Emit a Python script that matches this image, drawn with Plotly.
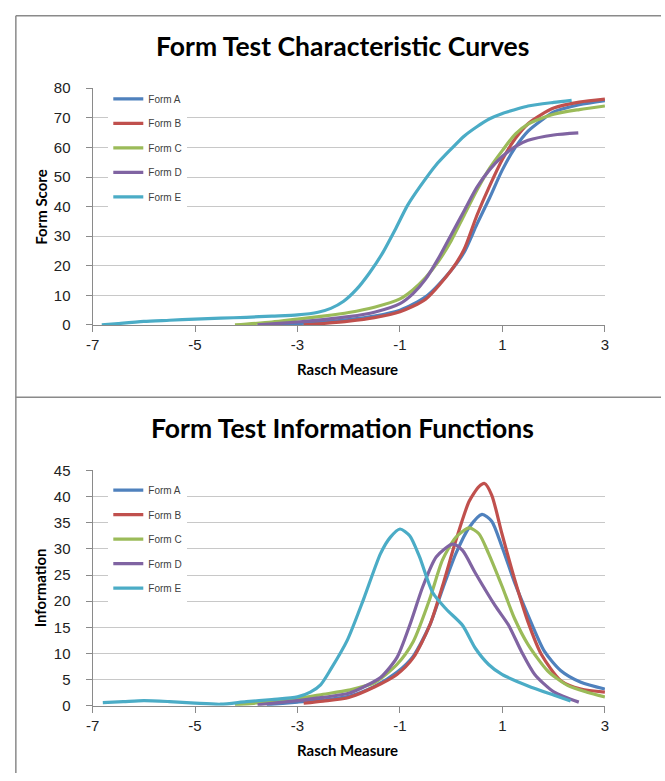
import plotly.graph_objects as go

W, H = 665, 781

forms = ["Form A", "Form B", "Form C", "Form D", "Form E"]
colors = ["#4F81BD", "#C0504D", "#9BBB59", "#8064A2", "#4BACC6"]

# ---- Test characteristic curves (Rasch measure -> form score) ----
tcc_x_A = [-3.5, -3.0, -2.5, -2.0, -1.5, -1.0, -0.5, 0.0, 0.25, 0.5, 0.75, 1.0, 1.25, 1.5, 1.75, 2.0, 2.5, 3.0]
tcc_y_A = [0.0, 0.5, 1.0, 1.8, 3.0, 5.0, 9.5, 18.5, 24.5, 34.0, 43.0, 52.5, 60.0, 65.5, 69.0, 72.0, 74.4, 75.8]

tcc_x_B = [-2.88, -2.5, -2.0, -1.5, -1.0, -0.5, 0.0, 0.25, 0.5, 0.75, 1.0, 1.25, 1.5, 1.75, 2.0, 2.5, 3.0]
tcc_y_B = [0.0, 0.5, 1.3, 2.5, 4.5, 8.7, 18.5, 25.5, 37.0, 47.0, 56.0, 63.0, 68.0, 71.0, 73.3, 75.3, 76.3]

tcc_x_C = [-4.22, -3.5, -3.0, -2.5, -2.0, -1.5, -1.0, -0.75, -0.5, -0.25, 0.0, 0.25, 0.5, 0.75, 1.0, 1.25, 1.5, 2.0, 2.5, 3.0]
tcc_y_C = [0.0, 1.0, 2.0, 3.0, 4.2, 6.0, 8.8, 11.8, 16.0, 21.5, 28.5, 37.0, 45.5, 53.0, 59.0, 64.5, 67.9, 71.2, 72.8, 74.0]

tcc_x_D = [-3.78, -3.0, -2.5, -2.0, -1.5, -1.0, -0.75, -0.5, -0.25, 0.0, 0.25, 0.5, 0.75, 1.0, 1.25, 1.5, 2.0, 2.48]
tcc_y_D = [0.0, 1.0, 1.8, 2.8, 4.3, 7.2, 10.5, 15.5, 22.5, 30.5, 38.5, 46.5, 52.5, 57.0, 60.3, 62.4, 64.2, 64.9]

tcc_x_E = [-6.82, -6.5, -6.0, -5.5, -5.0, -4.5, -4.0, -3.5, -3.0, -2.6, -2.35, -2.1, -1.85, -1.6, -1.35, -1.1, -0.85, -0.6, -0.3, 0.0, 0.25, 0.5, 0.75, 1.0, 1.25, 1.5, 2.0, 2.35]
tcc_y_E = [0.0, 0.5, 1.2, 1.6, 2.0, 2.3, 2.6, 3.0, 3.4, 4.3, 5.6, 8.0, 12.0, 17.5, 24.0, 32.0, 40.5, 47.0, 54.0, 59.5, 63.8, 67.0, 69.7, 71.5, 72.8, 74.0, 75.2, 75.9]

# ---- Test information functions ----
tif_x_A = [-3.6, -3.0, -2.5, -2.0, -1.5, -1.06, -0.74, -0.42, -0.17, 0.09, 0.35, 0.6, 0.79, 0.99, 1.24, 1.5, 1.82, 2.14, 2.53, 3.0]
tif_y_A = [0.2, 0.7, 1.1, 1.8, 3.7, 6.4, 9.5, 15.4, 22.3, 29.1, 34.1, 36.6, 35.3, 30.4, 23.5, 17.3, 10.4, 6.7, 4.5, 3.2]

tif_x_B = [-2.88, -2.5, -2.0, -1.5, -1.06, -0.74, -0.42, -0.17, 0.09, 0.35, 0.54, 0.65, 0.79, 0.99, 1.24, 1.5, 1.76, 2.14, 2.53, 3.0]
tif_y_B = [0.5, 0.9, 1.6, 3.6, 6.0, 9.2, 15.4, 22.9, 31.6, 39.1, 41.9, 42.5, 40.3, 32.9, 24.1, 16.0, 9.8, 4.8, 3.2, 2.6]

tif_x_C = [-4.22, -3.5, -3.0, -2.5, -2.0, -1.5, -1.06, -0.74, -0.42, -0.17, 0.09, 0.35, 0.54, 0.73, 0.99, 1.24, 1.5, 1.88, 2.27, 2.65, 3.0]
tif_y_C = [0.2, 0.8, 1.4, 2.2, 3.0, 4.4, 7.9, 12.3, 20.4, 27.9, 32.2, 34.0, 32.9, 29.1, 22.9, 16.6, 11.7, 6.7, 3.9, 2.6, 1.7]

tif_x_D = [-3.78, -3.0, -2.5, -2.0, -1.71, -1.38, -1.06, -0.81, -0.55, -0.29, 0.03, 0.22, 0.47, 0.86, 1.12, 1.37, 1.63, 2.01, 2.49]
tif_y_D = [0.2, 1.0, 1.6, 2.4, 3.6, 5.4, 9.2, 15.4, 22.9, 28.5, 30.9, 29.7, 25.4, 19.1, 15.4, 10.4, 6.0, 2.6, 0.7]

tif_x_E = [-6.8, -6.4, -6.0, -5.5, -5.0, -4.5, -4.0, -3.5, -3.0, -2.75, -2.55, -2.35, -2.03, -1.71, -1.38, -1.19, -1.0, -0.81, -0.62, -0.36, -0.1, 0.22, 0.47, 0.73, 0.99, 1.5, 2.01, 2.33]
tif_y_E = [0.6, 0.8, 1.0, 0.8, 0.5, 0.3, 0.8, 1.2, 1.7, 2.6, 4.0, 7.0, 12.5, 20.4, 29.1, 32.2, 33.8, 32.5, 28.5, 21.6, 18.5, 15.4, 11.0, 7.9, 6.0, 3.8, 2.0, 0.9]

x_ticks = [-7, -5, -3, -1, 1, 3]
x_tick_labels = ["-7", "-5", "-3", "-1", "1", "3"]

titles = ["Form Test Characteristic Curves", "Form Test Information Functions"]
y_titles = ["Form Score", "Information"]
x_title = "Rasch Measure"

tcc = [(tcc_x_A, tcc_y_A), (tcc_x_B, tcc_y_B), (tcc_x_C, tcc_y_C), (tcc_x_D, tcc_y_D), (tcc_x_E, tcc_y_E)]
tif = [(tif_x_A, tif_y_A), (tif_x_B, tif_y_B), (tif_x_C, tif_y_C), (tif_x_D, tif_y_D), (tif_x_E, tif_y_E)]

def px(x):
    return x / W

def py(y):
    return 1 - y / H

fig = go.Figure()
for i, (name, col) in enumerate(zip(forms, colors)):
    fig.add_trace(go.Scatter(x=tcc[i][0], y=tcc[i][1], name=name, mode="lines",
                             line=dict(color=col, width=3.2, shape="spline", smoothing=0.7),
                             xaxis="x", yaxis="y", legend="legend", legendgroup="t" + name))
for i, (name, col) in enumerate(zip(forms, colors)):
    fig.add_trace(go.Scatter(x=tif[i][0], y=tif[i][1], name=name, mode="lines",
                             line=dict(color=col, width=3.2, shape="spline", smoothing=0.7),
                             xaxis="x2", yaxis="y2", legend="legend2", legendgroup="b" + name))

tickfont = dict(family="Liberation Sans, Arial, sans-serif", size=15, color="#222222")
common_x = dict(range=[-7, 3], tickvals=x_ticks, ticktext=x_tick_labels, showgrid=False, zeroline=False,
                showline=True, linecolor="#8a8a8a", linewidth=1,
                ticks="outside", ticklen=6, tickcolor="#8a8a8a", tickfont=tickfont,
                domain=[px(87), px(608)])
common_y = dict(showgrid=True, gridcolor="#c8c8c8", gridwidth=1, zeroline=False,
                showline=True, linecolor="#8a8a8a", linewidth=1,
                ticks="outside", ticklen=6, tickcolor="#8a8a8a", tickfont=tickfont,
                ticklabelstandoff=12)

legend_common = dict(bgcolor="white", borderwidth=0, xanchor="left", yanchor="top",
                     tracegroupgap=5.5, itemwidth=30,
                     font=dict(family="Liberation Sans, Arial, sans-serif", size=10, color="#404040"))

fig.update_layout(
    width=W, height=H,
    margin=dict(l=0, r=0, t=0, b=0),
    paper_bgcolor="white", plot_bgcolor="white",
    showlegend=True,
    xaxis=dict(common_x, anchor="y"),
    yaxis=dict(common_y, range=[0, 80], dtick=10, anchor="x", domain=[py(323), py(81)]),
    xaxis2=dict(common_x, anchor="y2"),
    yaxis2=dict(common_y, range=[0, 45], dtick=5, anchor="x2", domain=[py(712.3), py(471.7)]),
    legend=dict(legend_common, x=px(103), y=py(77)),
    legend2=dict(legend_common, x=px(103), y=py(477)),
)

ann = []
for i, (ty, xt_y, ymid) in enumerate([(38, 368, 202), (428, 757, 592)]):
    ann.append(dict(text="<b>" + titles[i] + "</b>", x=px(341), y=py(ty), xref="paper", yref="paper",
                    showarrow=False, xanchor="center", yanchor="middle",
                    font=dict(family="Lato, sans-serif", size=26.5, color="black")))
    ann.append(dict(text="<b>" + x_title + "</b>", x=px(346), y=py(xt_y), xref="paper", yref="paper",
                    showarrow=False, xanchor="center", yanchor="middle",
                    font=dict(family="Lato, sans-serif", size=15, color="black")))
    ann.append(dict(text="<b>" + y_titles[i] + "</b>", x=px(45), y=py(ymid), xref="paper", yref="paper",
                    showarrow=False, xanchor="right", yanchor="middle", textangle=-90,
                    font=dict(family="Lato, sans-serif", size=15, color="black")))
fig.update_layout(annotations=ann)

border = dict(color="#8a8a8a", width=1.5)
fig.update_layout(shapes=[
    dict(type="line", xref="paper", yref="paper", x0=px(9), x1=px(9), y0=0, y1=py(7), line=border),
    dict(type="line", xref="paper", yref="paper", x0=px(9), x1=1, y0=py(7), y1=py(7), line=border),
    dict(type="line", xref="paper", yref="paper", x0=px(9), x1=1, y0=py(397), y1=py(397), line=border),
])

fig.write_html("out.html")
